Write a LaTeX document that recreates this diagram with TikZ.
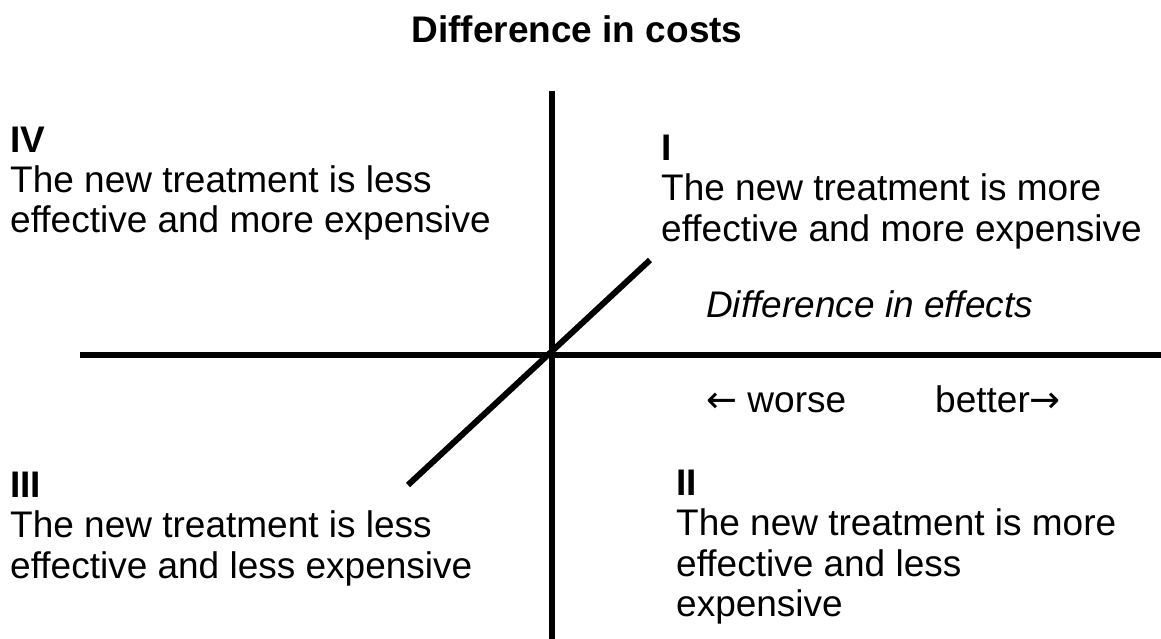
\documentclass[tikz,border=0pt]{standalone}
\usepackage{fontspec}
\setmainfont{Liberation Sans}
\newfontfamily\arrowfont{DejaVu Sans}
\begin{document}
\begin{tikzpicture}[x=1pt,y=-1pt,
  axis/.style={line width=6pt,line cap=butt},
  txt/.style={inner sep=0pt,anchor=base west,align=left,
    font=\fontsize{37}{40.5}\selectfont}]
\useasboundingbox (0,0) rectangle (1161,639);
% axes
\coordinate (ytop) at (552,91);
\coordinate (ybot) at (552,639);
\coordinate (xl) at (80,355);
\coordinate (xr) at (1161,355);
\coordinate (dlo) at (408,485);
\coordinate (dhi) at (650,260);
\draw[axis] (ytop) -- (ybot);
\draw[axis] (xl) -- (xr);
\draw[axis] (dlo) -- (dhi);
% titles
\node[txt,anchor=base] (title) at (577,43) {\textbf{Difference in costs}};
\node[txt] (effects) at (706,317) {\textit{Difference in effects}};
\node[txt] (worse) at (706,412) {{\arrowfont ←} worse};
\node[txt] (better) at (935,412) {better{\arrowfont →}};
% quadrants (multi-line nodes sit on the baseline of their last line)
\node[txt] (q4) at (10,233) {\textbf{IV}\\The new treatment is less\\effective and more expensive};
\node[txt] (q1) at (661,241) {\textbf{I}\\The new treatment is more\\effective and more expensive};
\node[txt] (q3) at (10,578) {\textbf{III}\\The new treatment is less\\effective and less expensive};
\node[txt] (q2) at (676,616.5) {\textbf{II}\\The new treatment is more\\effective and less\\expensive};
\end{tikzpicture}
\end{document}
